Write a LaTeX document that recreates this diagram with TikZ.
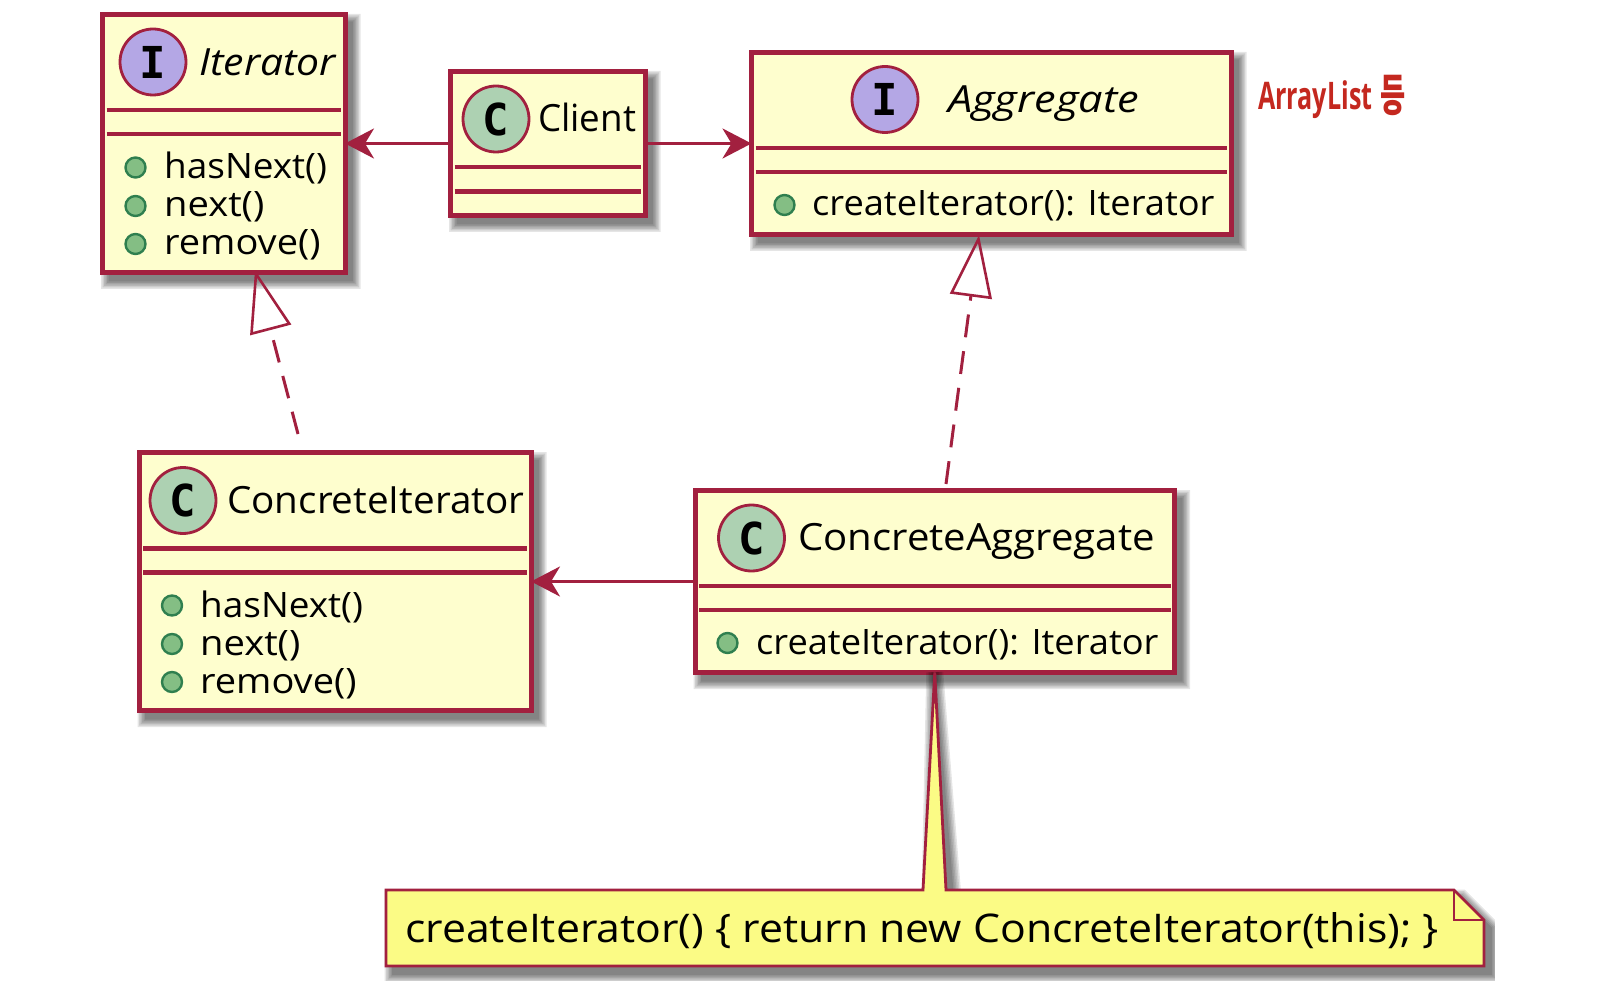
\documentclass[tikz,border=0pt]{standalone}
\usepackage{graphicx}
\usepackage{fontspec}
\setmainfont{Open Sans}
\newfontfamily\iconfont{DejaVu Sans Mono}
\newfontfamily\krfont{Noto Sans CJK KR}
\usetikzlibrary{arrows.meta,calc}
\definecolor{umlborder}{HTML}{A2203F}
\definecolor{umlfill}{HTML}{FEFECE}
\definecolor{notefill}{HTML}{FBFB85}
\definecolor{classicon}{HTML}{ADD1B2}
\definecolor{ifaceicon}{HTML}{B4A7E5}
\definecolor{methodfill}{HTML}{84BE84}
\definecolor{methodline}{HTML}{2F7F4F}
\definecolor{handred}{HTML}{C4281F}
\tikzset{
  umlbox/.style={draw=umlborder,fill=umlfill,line width=5pt,anchor=north west,inner sep=0pt,outer sep=0pt},
  divider/.style={draw=umlborder,line width=4.5pt},
  iconbase/.style={circle,draw=umlborder,line width=2.8pt,minimum size=66pt,inner sep=0pt,font=\iconfont\bfseries\fontsize{44}{44}\selectfont},
  classicn/.style={iconbase,fill=classicon},
  ifaceicn/.style={iconbase,fill=ifaceicon},
  methodicn/.style={circle,draw=methodline,fill=methodfill,line width=2.4pt,minimum size=20pt,inner sep=0pt},
  title/.style={anchor=base west,inner sep=0pt,font=\fontsize{37.5}{40}\selectfont},
  ititle/.style={anchor=base west,inner sep=0pt,font=\itshape\fontsize{37.5}{40}\selectfont},
  member/.style={anchor=base west,inner sep=0pt,font=\fontsize{35}{38}\selectfont},
  notetext/.style={anchor=base west,inner sep=0pt,font=\fontsize{39.5}{40}\selectfont},
  assoc/.style={draw=umlborder,line width=3pt,-{Stealth[length=29pt,width=30pt,inset=9pt]}},
  realize/.style={draw=umlborder,line width=3pt,dash pattern=on 23pt off 14pt,-{Triangle[open,length=62pt,width=42pt,line width=2.6pt]}},
  notebody/.style={draw=umlborder,fill=notefill,line width=2.8pt,line join=miter},
}
\newcommand{\sx}[2]{\scalebox{#1}[1]{#2}}
% soft shadow: arg 1 = closed path, drawn in growing translucent layers
\newcommand{\softshadow}[1]{%
  \foreach \w in {17,14,11,8,5,2}{%
    \begin{scope}[transparency group,opacity=.1,shift={(7,8)}]
      \path[fill=black,draw=black,line width=\w pt] #1;
    \end{scope}}}
% box: name, x1, y1, x2, y2, y-divider1, y-divider2
\newcommand{\umlrect}[7]{%
  \softshadow{(#2,#3) rectangle (#4,#5)}
  \pgfmathsetmacro{\bw}{#4-#2}\pgfmathsetmacro{\bh}{#5-#3}
  \node[umlbox,minimum width=\bw pt,minimum height=\bh pt] (#1) at (#2,#3) {};
  \draw[divider] (#2+4,#6) -- (#4-4,#6);
  \draw[divider] (#2+4,#7) -- (#4-4,#7);}
\begin{document}
\begin{tikzpicture}[x=1pt,y=-1pt]
\useasboundingbox[fill=white] (0,0) rectangle (1623,1000);

\umlrect{iterator}{102.5}{14.5}{345}{272.5}{110}{134}
\umlrect{client}{450.5}{71.5}{645}{215.5}{167}{191.5}
\umlrect{aggregate}{751.5}{52.5}{1231}{234.5}{148}{172}
\umlrect{citerator}{139}{452.5}{531}{710.5}{548.5}{572.5}
\umlrect{caggregate}{695}{490.5}{1174.5}{672.5}{586}{610}

% Iterator
\node[ifaceicn] (iconI) at (153,62) {I};
\node[ititle] (tIter) at (199,76) {\sx{1.09}{Iterator}};
\node[methodicn] (m1) at (135.5,167.5) {};
\node[methodicn] (m2) at (135.5,206) {};
\node[methodicn] (m3) at (135.5,244) {};
\node[member] (t1) at (164,179) {\sx{1.055}{hasNext()}};
\node[member] (t2) at (164,217) {\sx{1.09}{next()}};
\node[member] (t3) at (164,255) {\sx{1.085}{remove()}};

% Client
\node[classicn] (iconC) at (496,119) {C};
\node[title] (tClient) at (538,132) {\sx{.98}{Client}};

% Aggregate
\node[ifaceicn] (iconA) at (885,99.5) {I};
\node[ititle] (tAgg) at (948,113) {\sx{1.155}{Aggregate}};
\node[methodicn] (m4) at (784.5,205) {};
\node[member] (t4) at (812,216) {\sx{1.035}{createIterator(): Iterator}};

% ConcreteIterator
\node[classicn] (iconCI) at (183,500.5) {C};
\node[title] (tCI) at (227,513) {\sx{1.03}{ConcreteIterator}};
\node[methodicn] (m5) at (172,605.5) {};
\node[methodicn] (m6) at (172,644) {};
\node[methodicn] (m7) at (172,682) {};
\node[member] (t5) at (200,617) {\sx{1.055}{hasNext()}};
\node[member] (t6) at (200,655) {\sx{1.09}{next()}};
\node[member] (t7) at (200,693) {\sx{1.085}{remove()}};

% ConcreteAggregate
\node[classicn] (iconCA) at (751.5,538) {C};
\node[title] (tCA) at (798,550) {\sx{1.07}{ConcreteAggregate}};
\node[methodicn] (m8) at (727.5,643) {};
\node[member] (t8) at (756,654) {\sx{1.035}{createIterator(): Iterator}};

% Note
\coordinate (noteApex) at (caggregate.south);
\softshadow{(386,890) -- (923,890) -- (noteApex) -- (946,890) -- (1454,890) -- (1484,920) -- (1484,966) -- (386,966) -- cycle}
\fill[white] (1495,860) rectangle (1623,1000);
\fill[white] (380,981) rectangle (1623,1000);
\draw[notebody] (386,890) -- (923,890) -- (noteApex) -- (946,890) -- (1454,890) -- (1484,920) -- (1484,966) -- (386,966) -- cycle;
\draw[notebody,fill=none] (1454,890) -- (1454,920) -- (1484,920);
\node[notetext] (notelabel) at (405,942) {\sx{1.083}{createIterator() \{ return new ConcreteIterator(this); \}}};

% Connectors
\draw[assoc] (client) -- (iterator);
\draw[assoc] (client) -- (aggregate);
\draw[assoc] (caggregate) -- (citerator);
\coordinate (iterApex) at (255,270);
\coordinate (ciStart) at (298,434);
\coordinate (aggApex) at (979,235);
\coordinate (caStart) at (946,484);
\draw[realize] (ciStart) -- (iterApex);
\draw[realize] (caStart) -- (aggApex);

% Handwritten remark
\node[anchor=base west,inner sep=0pt,text=handred,font=\bfseries\fontsize{38}{40}\selectfont] (remark) at (1258,110) {\sx{.66}{ArrayList}};
\node[anchor=base west,inner sep=0pt,text=handred,font=\krfont\bfseries\fontsize{44}{46}\selectfont] (remarkKr) at (1380,112) {\sx{.62}{등}};
\end{tikzpicture}
\end{document}
